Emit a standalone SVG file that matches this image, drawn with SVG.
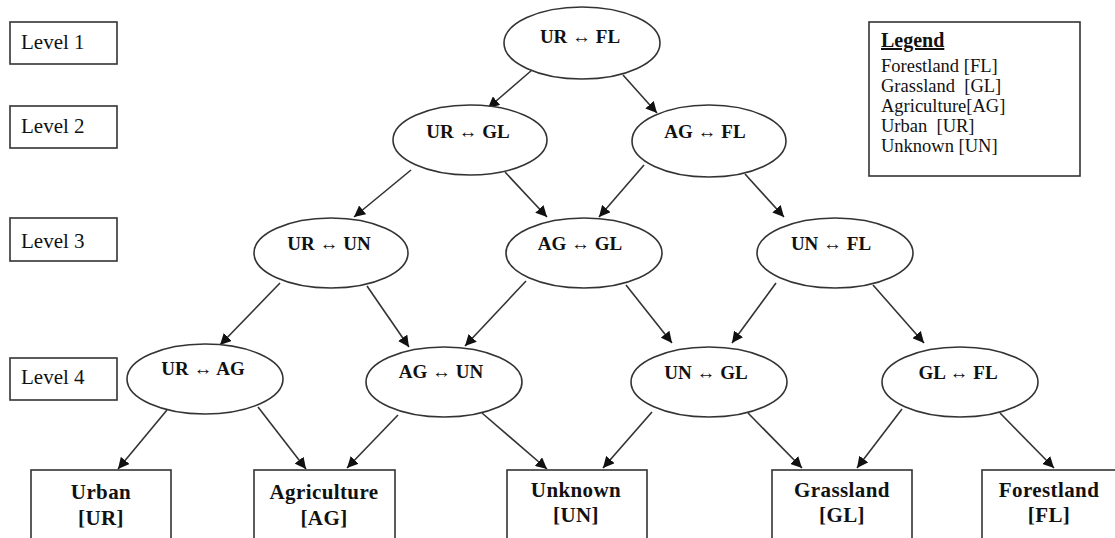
<svg xmlns="http://www.w3.org/2000/svg" width="1115" height="538" viewBox="0 0 1115 538">
  <style>
    .box { fill: #fff; stroke: #333; stroke-width: 1.6; }
    .ell { fill: #fff; stroke: #333; stroke-width: 1.6; }
    .lvl { font-family: "Liberation Serif", "Times New Roman", serif; font-size: 21px; fill: #111; }
    .lab { font-family: "Liberation Serif", "Times New Roman", serif; font-size: 19px; font-weight: bold; fill: #111; text-anchor: middle; }
    .leaf { font-family: "Liberation Serif", "Times New Roman", serif; font-size: 21px; font-weight: bold; fill: #111; text-anchor: middle; letter-spacing: 0.4px; }
    .leg { font-family: "Liberation Serif", "Times New Roman", serif; font-size: 18.5px; fill: #111; white-space: pre; }
    .legt { font-family: "Liberation Serif", "Times New Roman", serif; font-size: 20px; font-weight: bold; fill: #111; text-decoration: underline; }
    .edge { stroke: #333; stroke-width: 1.6; fill: none; marker-end: url(#arr); }
  </style>
  <defs>
    <marker id="arr" viewBox="0 0 10 10" refX="10" refY="5" markerWidth="7" markerHeight="7" markerUnits="strokeWidth" orient="auto">
      <path d="M0,0 L10,5 L0,10 z" fill="#111"/>
    </marker>
  </defs>
  <rect width="1115" height="538" fill="#fff"/>

  <!-- level markers -->
  <g id="level1"><rect class="box" x="10" y="22" width="107" height="42"/><text class="lvl" x="21" y="49">Level 1</text></g>
  <g id="level2"><rect class="box" x="10" y="106" width="107" height="42"/><text class="lvl" x="21" y="133">Level 2</text></g>
  <g id="level3"><rect class="box" x="10" y="218" width="107" height="43"/><text class="lvl" x="21" y="248">Level 3</text></g>
  <g id="level4"><rect class="box" x="10" y="358" width="107" height="42"/><text class="lvl" x="21" y="384">Level 4</text></g>

  <!-- legend -->
  <g id="legend">
    <rect class="box" x="869" y="22" width="211" height="154"/>
    <text class="legt" x="881" y="47">Legend</text>
    <text class="leg" x="881" y="72">Forestland [FL]</text>
    <text class="leg" x="881" y="92">Grassland  [GL]</text>
    <text class="leg" x="881" y="112">Agriculture[AG]</text>
    <text class="leg" x="881" y="132">Urban  [UR]</text>
    <text class="leg" x="881" y="152">Unknown [UN]</text>
  </g>

  <!-- connectors -->
  <g id="connectors">
    <line class="edge" x1="532" y1="70" x2="488" y2="108"/>
    <line class="edge" x1="623" y1="75" x2="657" y2="113"/>
    <line class="edge" x1="411" y1="170" x2="354" y2="217"/>
    <line class="edge" x1="505" y1="172" x2="547" y2="217"/>
    <line class="edge" x1="644" y1="165" x2="599" y2="217"/>
    <line class="edge" x1="745" y1="174" x2="784" y2="217"/>
    <line class="edge" x1="280" y1="283" x2="220" y2="345"/>
    <line class="edge" x1="367" y1="286" x2="409" y2="347"/>
    <line class="edge" x1="526" y1="281" x2="465" y2="346"/>
    <line class="edge" x1="626" y1="285" x2="672" y2="343"/>
    <line class="edge" x1="776" y1="283" x2="732" y2="343"/>
    <line class="edge" x1="873" y1="285" x2="924" y2="343"/>
    <line class="edge" x1="167" y1="410" x2="118" y2="469"/>
    <line class="edge" x1="258" y1="407" x2="306" y2="469"/>
    <line class="edge" x1="398" y1="415" x2="347" y2="468"/>
    <line class="edge" x1="482" y1="413" x2="547" y2="469"/>
    <line class="edge" x1="652" y1="412" x2="603" y2="468"/>
    <line class="edge" x1="748" y1="413" x2="802" y2="468"/>
    <line class="edge" x1="902" y1="409" x2="857" y2="468"/>
    <line class="edge" x1="1000" y1="413" x2="1054" y2="468"/>
  </g>

  <!-- transition nodes -->
  <g id="ur-fl"><ellipse class="ell" cx="582" cy="43" rx="78" ry="36"/><text class="lab" x="580" y="43">UR ↔ FL</text></g>
  <g id="ur-gl"><ellipse class="ell" cx="470" cy="140" rx="77" ry="35"/><text class="lab" x="468" y="138">UR ↔ GL</text></g>
  <g id="ag-fl"><ellipse class="ell" cx="709" cy="141" rx="77" ry="36"/><text class="lab" x="705" y="138">AG ↔ FL</text></g>
  <g id="ur-un"><ellipse class="ell" cx="331" cy="253" rx="77" ry="35"/><text class="lab" x="329" y="250">UR ↔ UN</text></g>
  <g id="ag-gl"><ellipse class="ell" cx="584" cy="253" rx="78" ry="35"/><text class="lab" x="580" y="250">AG ↔ GL</text></g>
  <g id="un-fl"><ellipse class="ell" cx="835" cy="253" rx="78" ry="35"/><text class="lab" x="831" y="250">UN ↔ FL</text></g>
  <g id="ur-ag"><ellipse class="ell" cx="205" cy="379" rx="78" ry="35"/><text class="lab" x="203" y="375">UR ↔ AG</text></g>
  <g id="ag-un"><ellipse class="ell" cx="444" cy="382" rx="78" ry="35"/><text class="lab" x="441" y="378">AG ↔ UN</text></g>
  <g id="un-gl"><ellipse class="ell" cx="709" cy="382" rx="78" ry="35"/><text class="lab" x="706" y="379">UN ↔ GL</text></g>
  <g id="gl-fl"><ellipse class="ell" cx="960" cy="382" rx="78" ry="35"/><text class="lab" x="958" y="379">GL ↔ FL</text></g>

  <!-- land-cover classes -->
  <g id="urban"><rect class="box" x="31" y="470" width="140" height="80"/><text class="leaf" x="101" y="499">Urban</text><text class="leaf" x="101" y="525">[UR]</text></g>
  <g id="agriculture"><rect class="box" x="254" y="470" width="141" height="80"/><text class="leaf" x="324" y="499">Agriculture</text><text class="leaf" x="324" y="525">[AG]</text></g>
  <g id="unknown"><rect class="box" x="507" y="470" width="140" height="80"/><text class="leaf" x="576" y="497">Unknown</text><text class="leaf" x="576" y="522">[UN]</text></g>
  <g id="grassland"><rect class="box" x="772" y="470" width="140" height="80"/><text class="leaf" x="842" y="497">Grassland</text><text class="leaf" x="842" y="522">[GL]</text></g>
  <g id="forestland"><rect class="box" x="982" y="470" width="140" height="80"/><text class="leaf" x="1049" y="497">Forestland</text><text class="leaf" x="1049" y="522">[FL]</text></g>
</svg>
